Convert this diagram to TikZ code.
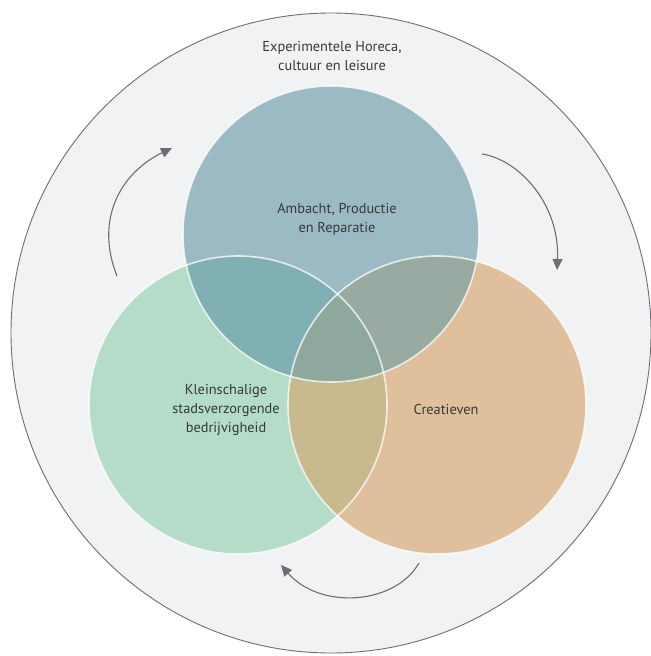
\documentclass[tikz,border=0pt]{standalone}
\usepackage{fontspec}
\setmainfont{PT Sans}
\usetikzlibrary{arrows.meta}
\definecolor{bgfill}{HTML}{F1F2F4}
\definecolor{arrowgrey}{HTML}{6D6E71}
\definecolor{textgrey}{HTML}{37383A}
\definecolor{ambachtblue}{HTML}{9BBAC3}
\definecolor{kleingreen}{HTML}{B4DCC8}
\definecolor{creaorange}{HTML}{E0C09C}
\definecolor{blgr}{HTML}{80B0B3}
\definecolor{blor}{HTML}{98AAA1}
\definecolor{gror}{HTML}{C9B98F}
\definecolor{allthree}{HTML}{8FA89D}

\begin{document}
\begin{tikzpicture}[x=1bp,y=-1bp,
    label/.style={align=center,text=textgrey,font=\fontsize{14.4}{19}\selectfont},
    cyclearrow/.style={draw=arrowgrey,line width=1.1bp,-{Triangle[length=11bp,width=10bp]}},
    rim/.style={draw=white,opacity=.75,line width=1.6bp}]
        \useasboundingbox (0,0) rectangle (651,656);

        % outer ring
        \draw[fill=bgfill,draw=arrowgrey,line width=0.9bp] (331,333) circle (320);

        \fill[ambachtblue] (331,234) circle (148);
        \fill[kleingreen] (238,405) circle (149);
        \fill[creaorange] (437,405) circle (149);

        % overlaps
        \begin{scope}
            \clip (238,405) circle (149);
            \fill[gror] (437,405) circle (149);
        \end{scope}
        \begin{scope}
            \clip (331,234) circle (148);
            \fill[blgr] (238,405) circle (149);
            \fill[blor] (437,405) circle (149);
            \clip (238,405) circle (149);
            \fill[allthree] (437,405) circle (149);
        \end{scope}

        \draw[rim] (331,234) circle (148);
        \draw[rim] (238,405) circle (149);
        \draw[rim] (437,405) circle (149);

        \node[label] (horeca) at (332,56) {Experimentele Horeca,\\cultuur en leisure};
        \node[label] (ambacht) at (337,219) {Ambacht, Productie\\en Reparatie};
        \node[label] (klein) at (226,410) {Kleinschalige\\stadsverzorgende\\bedrijvigheid};
        \node[label] (crea) at (446,409) {Creatieven};

        \coordinate (l1) at (117,276);
        \coordinate (l2) at (172,148);
        \coordinate (r1) at (482,154);
        \coordinate (r2) at (557,270);
        \coordinate (b1) at (419,563);
        \coordinate (b2) at (281,565);
        \draw[cyclearrow] (l1) .. controls (94,218) and (122,172) .. (l2);
        \draw[cyclearrow] (r1) .. controls (520,160) and (560,205) .. (r2);
        \draw[cyclearrow] (b1) .. controls (395,605) and (320,610) .. (b2);
\end{tikzpicture}
\end{document}
